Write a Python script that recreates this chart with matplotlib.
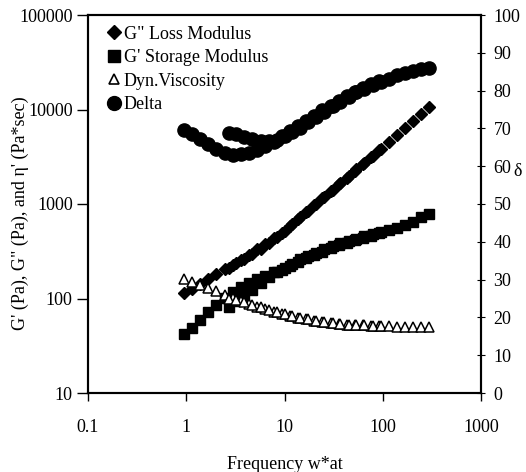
import matplotlib
matplotlib.use("Agg")
import matplotlib.pyplot as plt
from matplotlib.lines import Line2D

plt.rcParams['font.family'] = ['Liberation Serif', 'DejaVu Serif']

# ---- data (two overlapping measurement sets) ----
freq1 = [0.95, 1.15, 1.39, 1.68, 2.03, 2.46, 2.98, 3.6, 4.36, 5.28, 6.39, 7.73, 9.35,
         11.3, 13.7, 16.6, 20.1, 24.3, 29.4, 35.6, 43.1, 52.1, 63.1, 76.3, 92.3]
freq2 = [2.7, 3.2, 3.9, 4.7, 5.7, 6.9, 8.3, 10, 12, 14.5, 17.5, 21, 25.5, 31, 37, 45,
         54, 65, 79, 95, 115, 139, 168, 204, 245, 295]

loss1 = [113, 126, 142, 160, 180, 203, 228, 258, 292, 332, 380, 435, 497, 580, 700,
         825, 975, 1150, 1360, 1610, 1900, 2250, 2660, 3140, 3720]
loss2 = [210, 235, 262, 295, 338, 390, 450, 520, 610, 720, 850, 1000, 1190, 1420, 1660,
         1970, 2320, 2730, 3240, 3800, 4500, 5350, 6350, 7550, 8900, 10500]

stor1 = [42, 49, 59, 72, 86, 101, 116, 131, 146, 160, 175, 189, 201, 219, 246, 268,
         291, 312, 339, 364, 387, 413, 436, 458, 490]
stor2 = [81, 93, 107, 124, 146, 169, 191, 212, 234, 259, 283, 306, 332, 359, 383, 408,
         430, 457, 484, 507, 537, 562, 600, 650, 720, 790]

visc1 = [160, 150, 140, 130, 120, 110, 102, 95, 88, 82, 77, 72, 68, 65, 62, 60, 58, 56,
         55, 54, 53, 52, 52, 51, 51]
visc2 = [100, 96, 91, 86, 81, 76, 72, 68, 65, 62, 60, 58, 56, 55, 54, 53, 52, 52, 51,
         51, 51, 50, 50, 50, 50, 50]

delta1 = [69.7, 68.6, 67.3, 65.8, 64.5, 63.5, 63.0, 63.1, 63.5, 64.3, 65.3, 66.5, 68.0,
          69.3, 70.6, 72.0, 73.4, 74.8, 76.0, 77.3, 78.5, 79.6, 80.7, 81.7, 82.5]
delta2 = [68.8, 68.4, 67.8, 67.2, 66.7, 66.6, 67.0, 67.9, 69.0, 70.2, 71.6, 73.0, 74.4,
          75.8, 77.0, 78.3, 79.5, 80.5, 81.5, 82.4, 83.2, 84.0, 84.7, 85.3, 85.7, 86.0]

labels = ['G" Loss Modulus', "G' Storage Modulus", 'Dyn.Viscosity', 'Delta']
left_ticks = [10, 100, 1000, 10000, 100000]
x_ticks = [0.1, 1, 10, 100, 1000]
right_ticks = [0, 10, 20, 30, 40, 50, 60, 70, 80, 90, 100]

# ---- figure ----
fig = plt.figure(figsize=(5.26, 4.72), dpi=100)
ax = fig.add_axes([88/526, 1-393/472, (481-88)/526, (393-15)/472])
ax2 = ax.twinx()

fs = 13
for f, v in ((freq1, stor1), (freq2, stor2)):
    ax.plot(f, v, ls='none', marker='s', ms=7.5, mfc='black', mec='black')
for f, v in ((freq1, loss1), (freq2, loss2)):
    ax.plot(f, v, ls='none', marker='D', ms=6.5, mfc='black', mec='black')
for f, v in ((freq1, visc1), (freq2, visc2)):
    ax.plot(f, v, ls='none', marker='^', ms=6.5, mfc='white', mec='black', mew=1.1)
for f, v in ((freq1, delta1), (freq2, delta2)):
    ax2.plot(f, v, ls='none', marker='o', ms=9.5, mfc='black', mec='black')

ax.set_xscale('log')
ax.set_yscale('log')
ax.set_xlim(0.1, 1000)
ax.set_ylim(10, 100000)
ax2.set_ylim(0, 100)

ax.set_xticks(x_ticks)
ax.set_xticklabels(['0.1', '1', '10', '100', '1000'], fontsize=fs)
ax.set_yticks(left_ticks)
ax.set_yticklabels([str(t) for t in left_ticks], fontsize=fs)
ax.minorticks_off()
ax.tick_params(axis='y', which='major', direction='out', length=8, width=1, pad=3)
ax.tick_params(axis='x', which='major', direction='out', length=6, width=1, pad=13)

ax2.set_yticks(right_ticks)
ax2.set_yticklabels([str(t) for t in right_ticks], fontsize=fs)
ax2.tick_params(axis='y', direction='inout', length=6, width=0.8, pad=6)

for sp in ax.spines.values():
    sp.set_linewidth(1.5)
for sp in ax2.spines.values():
    sp.set_linewidth(1.5)

ax.set_xlabel('Frequency w*at', fontsize=fs)
ax.xaxis.set_label_coords(0.5, (393 - 456) / 378)
ax.set_ylabel("G' (Pa), G\" (Pa), and η' (Pa*sec)", fontsize=fs)
ax.yaxis.set_label_coords((29 - 88) / 393, (393 - 213) / 378)
fig.text(518/526, 1-171/472, 'δ', fontsize=fs, ha='center', va='center')

handles = [
    Line2D([], [], ls='none', marker='D', ms=7.5, mfc='black', mec='black'),
    Line2D([], [], ls='none', marker='s', ms=9, mfc='black', mec='black'),
    Line2D([], [], ls='none', marker='^', ms=7, mfc='white', mec='black', mew=1.2),
    Line2D([], [], ls='none', marker='o', ms=10, mfc='black', mec='black'),
]
ax.legend(handles, labels, loc='upper left', bbox_to_anchor=(0.047, 0.972),
          frameon=False, fontsize=fs, handlelength=0.8, handletextpad=0.15,
          labelspacing=0.36, borderaxespad=0, borderpad=0)

fig.savefig('out.png', dpi=100)
